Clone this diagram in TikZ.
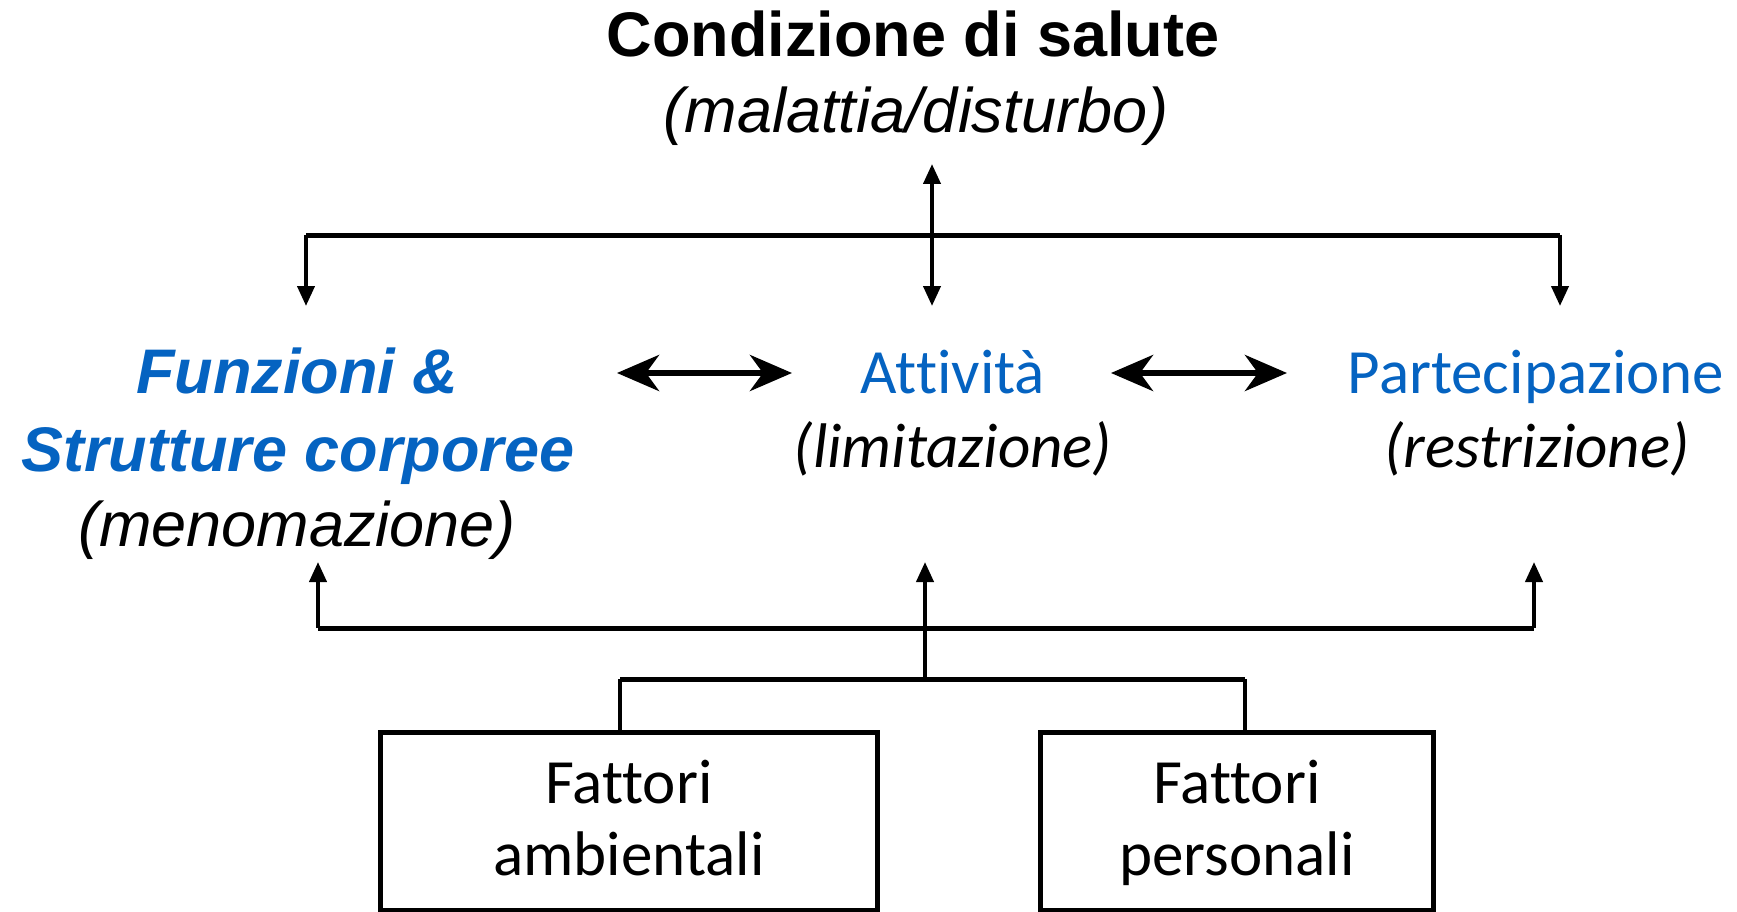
\documentclass[tikz,border=0pt]{standalone}
\usepackage{fontspec}
\setmainfont{Liberation Sans}
\newfontfamily\calfont[Ligatures=NoCommon]{Carlito}
\usetikzlibrary{arrows.meta}
\definecolor{icfblue}{RGB}{5,99,193}
\begin{document}
\begin{tikzpicture}[x=1pt,y=-1pt,
  ar/.style={inner sep=0pt, anchor=base, font=\fontsize{63}{76}\selectfont},
  cb/.style={inner sep=0pt, anchor=base, font=\fontsize{63}{76}\selectfont\calfont},
  thickline/.style={line width=5pt},
  thinline/.style={line width=4pt},
  uparr/.style={line width=4pt, -{Triangle[length=20pt,width=17pt]}},
  dblarr/.style={line width=6pt, {Stealth[length=42pt,width=36pt,inset=13pt]}-{Stealth[length=42pt,width=36pt,inset=13pt]}},
  box/.style={draw, line width=5pt, inner sep=0pt}]
\useasboundingbox (0,0) rectangle (1737,912);
% texts
\node[ar, font=\fontsize{63}{76}\selectfont\bfseries] (cond) at (913,57) {Condizione di salute};
\node[ar, font=\fontsize{63}{76}\selectfont\itshape] (mal) at (916,133) {(malattia/disturbo)};
\node[ar, text=icfblue, font=\fontsize{63}{76}\selectfont\bfseries\itshape] (funz) at (297,393) {Funzioni \&};
\node[ar, text=icfblue, font=\fontsize{63}{76}\selectfont\bfseries\itshape] (strut) at (298,471) {Strutture corporee};
\node[ar, font=\fontsize{63}{76}\selectfont\itshape] (meno) at (297,546) {(menomazione)};
\node[cb, text=icfblue] (att) at (953,393) {Attività};
\node[cb, font=\fontsize{63}{76}\selectfont\calfont\itshape] (lim) at (953,467) {(limitazione)};
\node[cb, text=icfblue] (part) at (1536,393) {Partecipazione};
\node[cb, font=\fontsize{63}{76}\selectfont\calfont\itshape] (restr) at (1537,467) {(restrizione)};
% boxes
\node[box, minimum width=497pt, minimum height=178pt] (ambbox) at (628.5,821) {};
\node[box, minimum width=393pt, minimum height=178pt] (perbox) at (1236.5,821) {};
\node[cb] (amb1) at (629,803) {Fattori};
\node[cb] (amb2) at (629,875) {ambientali};
\node[cb] (per1) at (1237,803) {Fattori};
\node[cb] (per2) at (1237,875) {personali};
% top connectors
\coordinate (mtop) at (932,164);
\coordinate (mbot) at (932,306);
\coordinate (hl) at (306,235);
\coordinate (hr) at (1560,235);
\coordinate (fl) at (306,306);
\coordinate (fr) at (1560,306);
\draw[thickline] (hl) -- (hr);
\draw[uparr] (hl) -- (fl);
\draw[uparr] (hr) -- (fr);
\draw[line width=4pt, {Triangle[length=20pt,width=17pt]}-{Triangle[length=20pt,width=17pt]}] (mtop) -- (mbot);
% horizontal double arrows
\coordinate (d1a) at (617,373);
\coordinate (d1b) at (792,373);
\coordinate (d2a) at (1111,373);
\coordinate (d2b) at (1287,373);
\draw[dblarr] (d1a) -- (d1b);
\draw[dblarr] (d2a) -- (d2b);
% bottom connectors
\coordinate (bl) at (318,628);
\coordinate (bm) at (925,628);
\coordinate (br) at (1534,628);
\coordinate (tl) at (318,562);
\coordinate (tm) at (925,562);
\coordinate (tr) at (1534,562);
\coordinate (jm) at (925,679);
\coordinate (jl) at (620,679);
\coordinate (jr) at (1245,679);
\draw[thickline] (bl) -- (br);
\draw[uparr] (bl) -- (tl);
\draw[uparr] (bm) -- (tm);
\draw[uparr] (br) -- (tr);
\draw[thinline] (jm) -- (bm);
\draw[thickline] (jl) -- (jr);
\draw[thinline] (jl) -- (jl |- ambbox.north);
\draw[thinline] (jr) -- (jr |- perbox.north);
\end{tikzpicture}
\end{document}
